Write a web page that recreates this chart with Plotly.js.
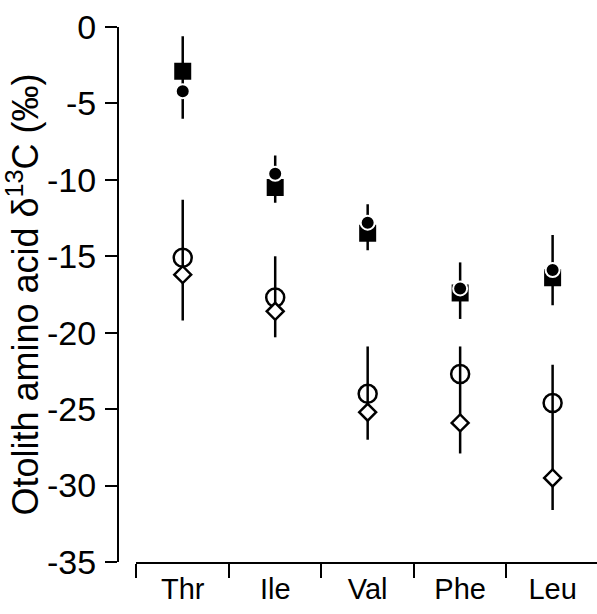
<!DOCTYPE html>
<html>
<head>
<meta charset="utf-8">
<script src="https://cdn.plot.ly/plotly-3.0.1.min.js"></script>
<style>html,body{margin:0;padding:0;background:#fff;}#chart{width:597px;height:614px;}</style>
</head>
<body>
<div id="chart"></div>
<script>
// Categories (amino acids)
var categories = ['Thr', 'Ile', 'Val', 'Phe', 'Leu'];

// Filled symbols
var filledSquare = [-2.9, -10.5, -13.5, -17.4, -16.4];
var filledCircle = [-4.2, -9.6, -12.8, -17.1, -15.9];
var filledErrTop = [-0.6, -8.4, -11.6, -15.4, -13.6];
var filledErrBottom = [-6.0, -11.5, -14.6, -19.1, -18.2];

// Open symbols
var openCircle = [-15.1, -17.7, -24.0, -22.7, -24.6];
var openDiamond = [-16.2, -18.6, -25.2, -25.9, -29.5];
var openErrTop = [-11.3, -15.0, -20.9, -20.9, -22.1];
var openErrBottom = [-19.2, -20.3, -27.0, -27.9, -31.6];

// Y axis ticks
var yTicks = [0, -5, -10, -15, -20, -25, -30, -35];

function plusArr(top, v) { return top.map(function (t, i) { return t - v[i]; }); }
function minusArr(bot, v) { return bot.map(function (b, i) { return v[i] - b; }); }

var traces = [
  {
    x: categories, y: filledSquare, type: 'scatter', mode: 'markers',
    marker: { symbol: 'square', size: 17, color: '#000' },
    error_y: { type: 'data', symmetric: false, array: plusArr(filledErrTop, filledSquare),
      arrayminus: minusArr(filledErrBottom, filledSquare), width: 0, thickness: 2.5, color: '#000' },
    hoverinfo: 'y'
  },
  {
    x: categories, y: filledCircle, type: 'scatter', mode: 'markers',
    marker: { symbol: 'circle', size: 14, color: '#000', line: { color: '#fff', width: 2 } },
    hoverinfo: 'y'
  },
  {
    x: categories, y: openCircle, type: 'scatter', mode: 'markers',
    marker: { symbol: 'circle-open', size: 18, color: '#000', line: { color: '#000', width: 2.5 } },
    error_y: { type: 'data', symmetric: false, array: plusArr(openErrTop, openCircle),
      arrayminus: minusArr(openErrBottom, openCircle), width: 0, thickness: 2.5, color: '#000' },
    hoverinfo: 'y'
  },
  {
    x: categories, y: openDiamond, type: 'scatter', mode: 'markers',
    marker: { symbol: 'diamond', size: 13, color: '#fff', line: { color: '#000', width: 2.5 } },
    hoverinfo: 'y'
  }
];

var font = 'Liberation Sans, Arial, Helvetica, sans-serif';

var layout = {
  width: 597, height: 614,
  margin: { l: 118, r: 0, t: 27, b: 52, pad: 0 },
  paper_bgcolor: '#fff', plot_bgcolor: '#fff',
  showlegend: false,
  font: { family: font, color: '#000' },
  xaxis: {
    type: 'category',
    domain: [0.0386, 1],
    range: [-0.5, 4.48],
    tickson: 'boundaries',
    ticks: 'outside', ticklen: 14, tickwidth: 2, tickcolor: '#000',
    showline: true, linewidth: 2, linecolor: '#000',
    showgrid: false, zeroline: false,
    tickfont: { size: 29, family: font, color: '#000' }
  },
  yaxis: {
    anchor: 'free', position: 0,
    range: [-35, 0],
    tickvals: yTicks,
    ticktext: yTicks.map(function (v) { return String(v); }),
    ticks: 'outside', ticklen: 12, tickwidth: 2, tickcolor: '#000',
    showline: true, linewidth: 2, linecolor: '#000',
    showgrid: false, zeroline: false,
    ticklabelstandoff: 2,
    tickfont: { size: 34, family: font, color: '#000' },
    title: { text: 'Otolith amino acid δ<sup>13</sup>C (‰)', font: { size: 36, family: font, color: '#000' }, standoff: 8 }
  }
};

Plotly.newPlot('chart', traces, layout, { displayModeBar: false, staticPlot: true });
</script>
</body>
</html>
